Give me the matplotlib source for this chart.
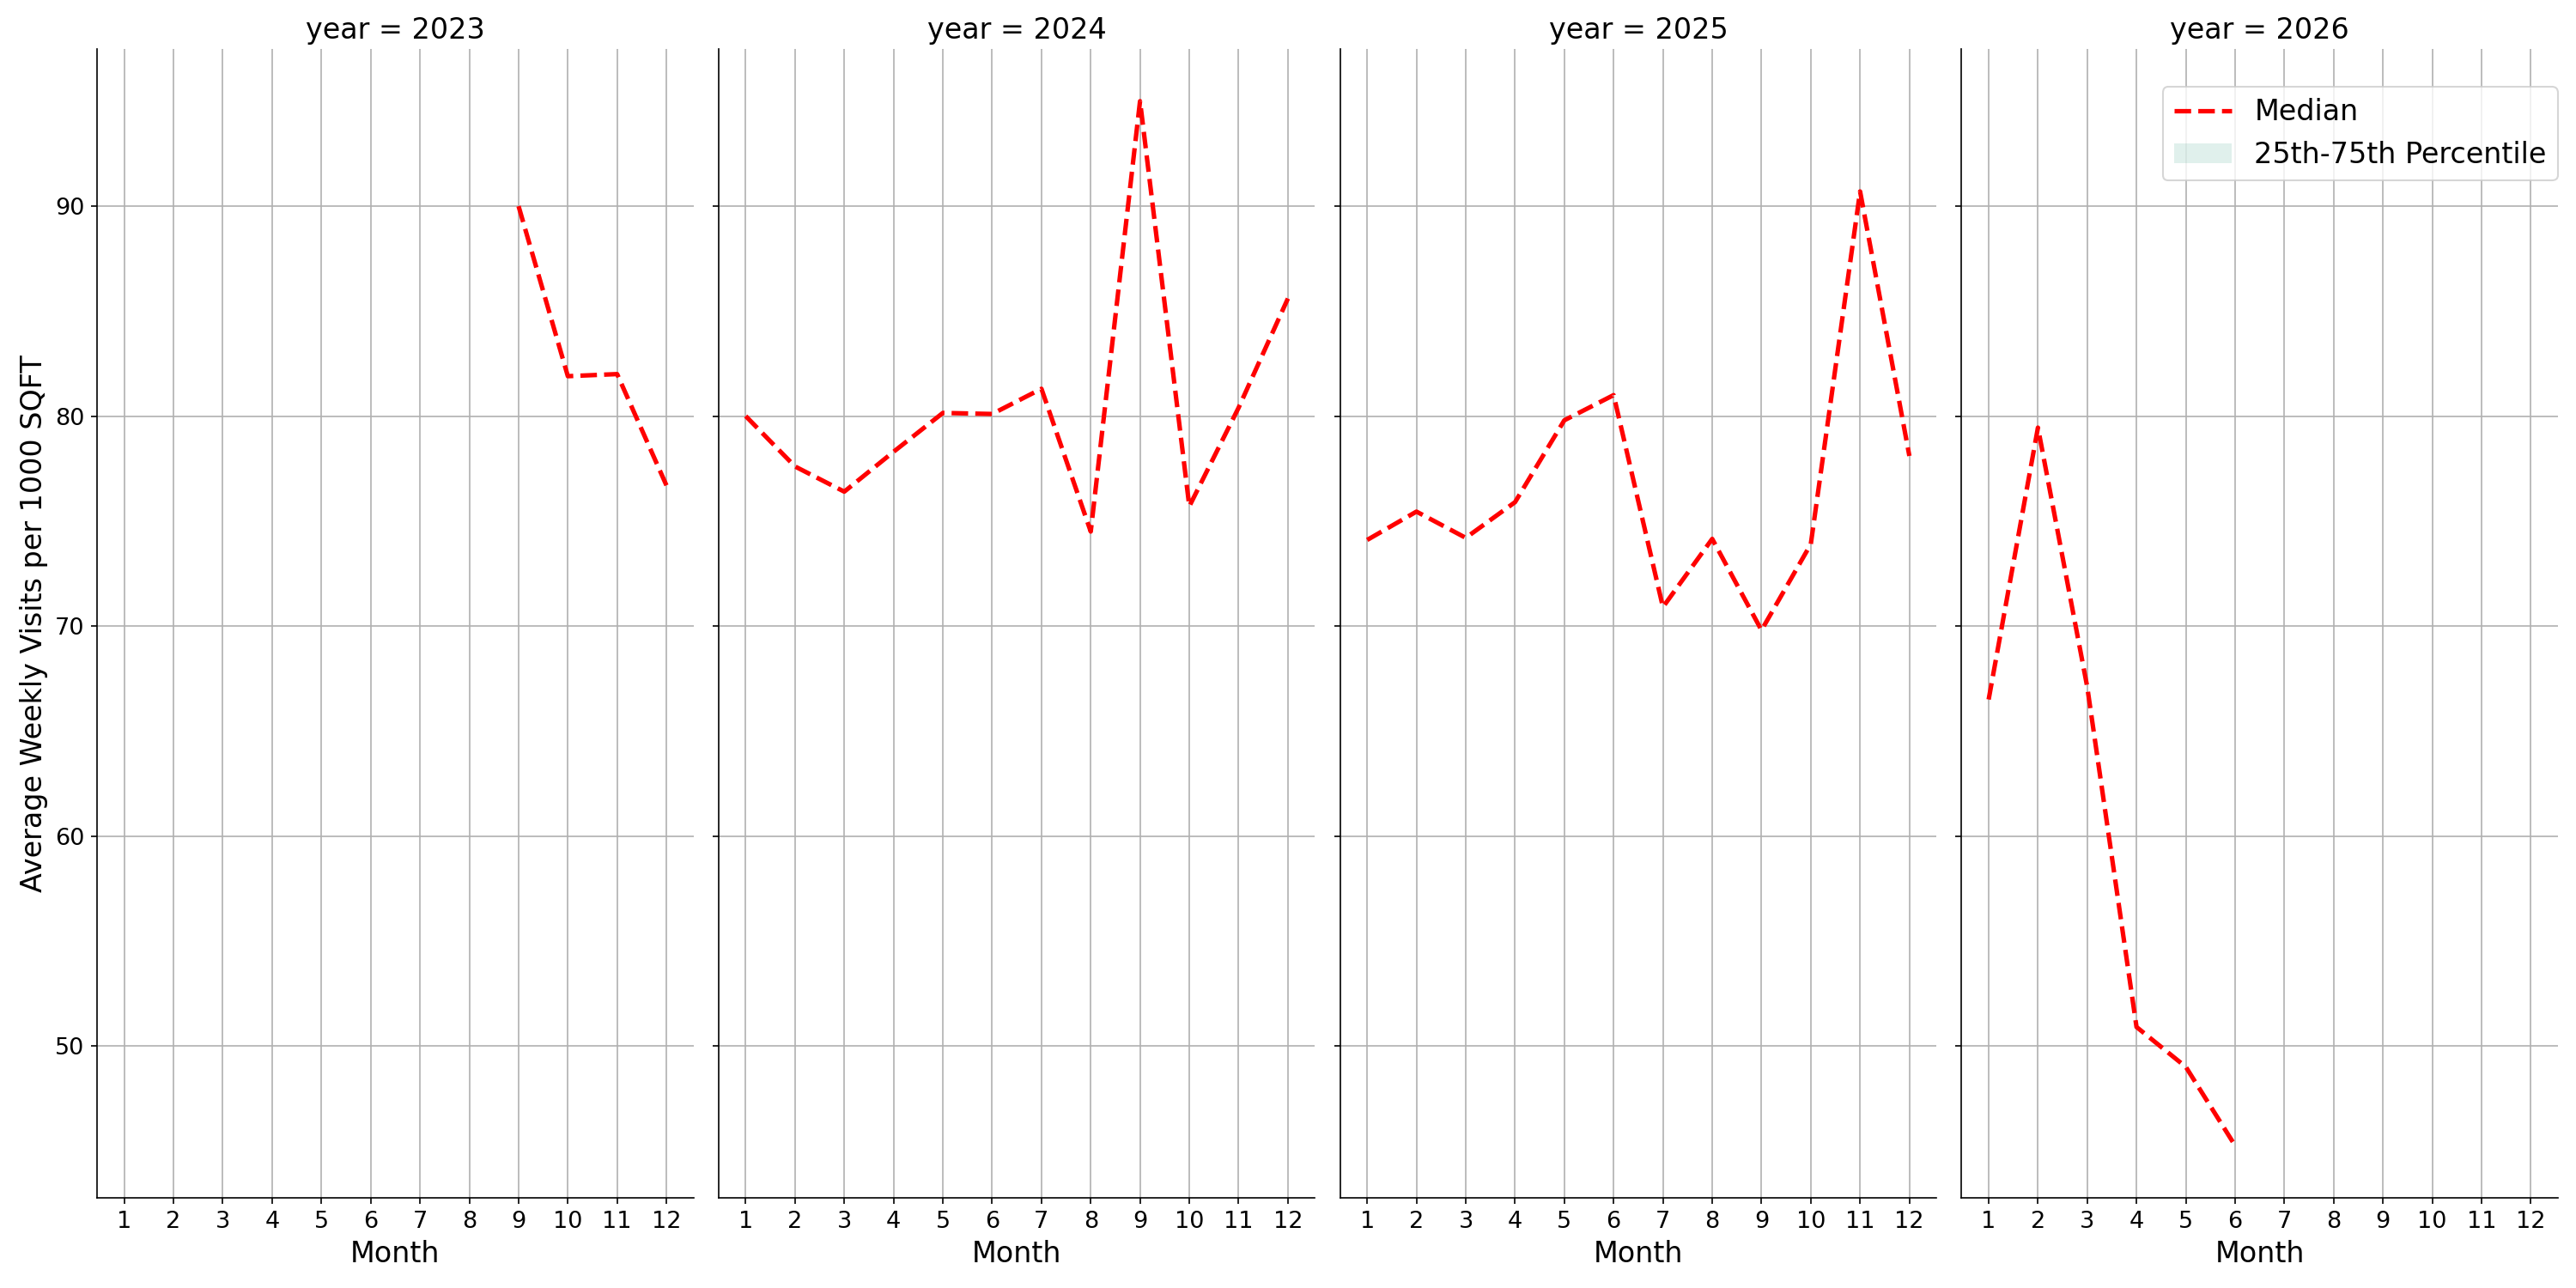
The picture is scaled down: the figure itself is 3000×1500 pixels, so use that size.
import numpy as np
import matplotlib.pyplot as plt
from matplotlib.patches import Patch

# Median weekly visits per 1000 sqft, by year and month
years = [2023, 2024, 2025, 2026]
months = {
    2023: [9, 10, 11, 12],
    2024: [1, 2, 3, 4, 5, 6, 7, 8, 9, 10, 11, 12],
    2025: [1, 2, 3, 4, 5, 6, 7, 8, 9, 10, 11, 12],
    2026: [1, 2, 3, 4, 5, 6],
}
median = {
    2023: [90.0, 81.9, 82.0, 76.7],
    2024: [80.0, 77.6, 76.4, 78.3, 80.15, 80.1, 81.3, 74.5, 95.0, 75.7, 80.4, 85.6],
    2025: [74.1, 75.45, 74.2, 75.9, 79.8, 81.0, 70.9, 74.15, 69.8, 73.9, 90.7, 78.1],
    2026: [66.5, 79.45, 67.1, 50.9, 49.0, 45.25],
}

band_color = '#309b80'

fig, axes = plt.subplots(1, 4, figsize=(20, 10), sharey=True)
fig.subplots_adjust(left=0.0377, right=0.993, top=0.962, bottom=0.07, wspace=0.042)

for ax, yr in zip(axes, years):
    ax.plot(months[yr], median[yr], color='red', linestyle='--', linewidth=2.5, label='Median')
    ax.set_title(f'year = {yr}', fontsize=16)
    ax.set_xticks(range(1, 13))
    ax.set_xlim(0.45, 12.55)
    ax.set_xlabel('Month', fontsize=16)
    ax.tick_params(labelsize=13)
    ax.grid(True, color='#b0b0b0', linewidth=0.8)
    ax.set_axisbelow(True)
    ax.spines['top'].set_visible(False)
    ax.spines['right'].set_visible(False)

axes[0].set_ylabel('Average Weekly Visits per 1000 SQFT', fontsize=16)
axes[0].set_yticks([50, 60, 70, 80, 90])

# legend in the last panel
handles, labels = axes[3].get_legend_handles_labels()
handles.append(Patch(facecolor=band_color, alpha=0.15, edgecolor='none'))
labels.append('25th-75th Percentile')
axes[3].legend(handles, labels, loc='upper right', fontsize=16,
               bbox_to_anchor=(1.0, 0.967), borderaxespad=0)

fig.savefig('out.png', dpi=150)
